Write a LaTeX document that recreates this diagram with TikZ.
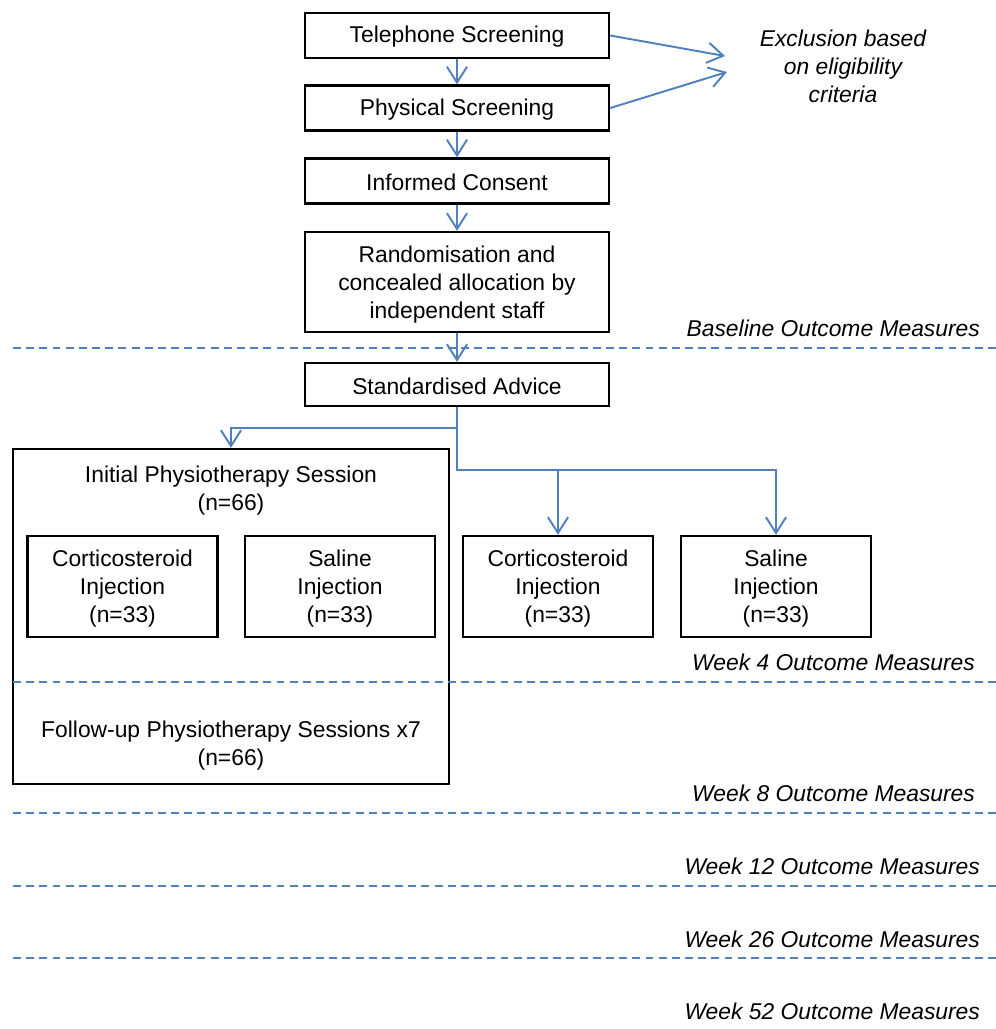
\documentclass[tikz,border=0pt]{standalone}
\usepackage{fontspec}
\setmainfont{Liberation Sans}
\usetikzlibrary{arrows.meta,positioning,calc}
\definecolor{flowblue}{RGB}{79,129,189}

\begin{document}
\begin{tikzpicture}[x=0.02cm, y=-0.02cm,
  box/.style={draw, line width=1.4pt, minimum width=6.08cm, minimum height=0.9cm, align=center, font=\fontsize{13}{16}\selectfont, inner sep=2pt, text height=1.1em},
  multibox/.style={draw, line width=1.4pt, minimum width=6.08cm, align=center, font=\fontsize{13}{16}\selectfont, inner sep=2pt, text depth=-1.8pt},
  armbox/.style={multibox, minimum width=3.8cm, minimum height=2.02cm},
  txt/.style={align=center, font=\fontsize{13}{16}\selectfont, inner sep=1pt},
  note/.style={font=\fontsize{13}{16}\selectfont\itshape, inner sep=1pt},
  arr/.style={draw=flowblue, line width=1.1pt, -{Straight Barb[length=9pt,width=11.5pt]}},
  sep/.style={draw=flowblue, line width=1.1pt, dash pattern=on 4.5pt off 3pt}
]
\useasboundingbox (0,0) rectangle (996,1029);

\node[box] (tel) at (457,35.5) {Telephone Screening};
\node[box] (phys) at (457,108) {Physical Screening};
\node[box] (cons) at (457,181) {Informed Consent};
\node[multibox, minimum height=2cm] (rand) at (457,282) {Randomisation and\\concealed allocation by\\independent staff};
\node[box, minimum height=0.86cm] (adv) at (457,384.5) {Standardised Advice};

\node[note, align=center] (excl) at (843,66) {Exclusion based\\on eligibility\\criteria};
\coordinate (ex1) at (725,56);
\coordinate (ex2) at (727,72);

% physio arm
\node[draw, line width=1.4pt, minimum width=8.72cm, minimum height=6.7cm] (physio) at (231,616.5) {};
\node[txt] (init) at (231,491) {Initial Physiotherapy Session\\(n=66)};
\node[armbox] (cs1) at (122.5,586.5) {Corticosteroid\\Injection\\(n=33)};
\node[armbox] (sl1) at (340,586.5) {Saline\\Injection\\(n=33)};
\node[txt] (follow) at (231,745.5) {Follow-up Physiotherapy Sessions x7\\(n=66)};

% injection-only arm
\node[armbox] (cs2) at (558,586.5) {Corticosteroid\\Injection\\(n=33)};
\node[armbox] (sl2) at (776,586.5) {Saline\\Injection\\(n=33)};

\draw[arr] (tel) -- (phys);
\draw[arr] (phys) -- (cons);
\draw[arr] (cons) -- (rand);
\draw[arr] (rand) -- (adv);
\draw[arr] (tel.east) -- (ex1);
\draw[arr] (phys.east) -- (ex2);

\coordinate (split1) at (457,428);
\coordinate (split2) at (457,470);
\draw[arr] (adv.south) -- (split1) -| (physio.north);
\draw[arr] (split1) -- (split2) -| (cs2.north);
\draw[arr] (split2) -| (sl2.north);

% outcome time points
\foreach \y in {348,682,813,886,958}
  \draw[sep] (13,\y) -- (996,\y);
\node[note, anchor=east] (t0) at (982,328) {Baseline Outcome Measures};
\node[note, anchor=east] (t4) at (977,662) {Week 4 Outcome Measures};
\node[note, anchor=east] (t8) at (977,793) {Week 8 Outcome Measures};
\node[note, anchor=east] (t12) at (982,866) {Week 12 Outcome Measures};
\node[note, anchor=east] (t26) at (982,939) {Week 26 Outcome Measures};
\node[note, anchor=east] (t52) at (982,1011) {Week 52 Outcome Measures};
\end{tikzpicture}
\end{document}
